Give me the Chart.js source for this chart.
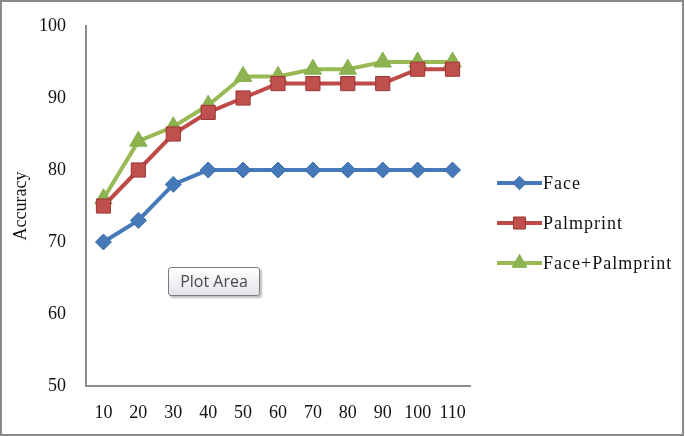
<!DOCTYPE html>
<html>
<head>
<meta charset="utf-8">
<script src="https://cdn.jsdelivr.net/npm/chart.js@4/dist/chart.umd.min.js"></script>
<style>
  html, body { margin: 0; padding: 0; background: #fff; }
  #wrap { position: relative; width: 685px; height: 436px; }
  #tip {
    position: absolute; left: 168px; top: 267px; width: 92px; height: 29px;
    box-sizing: border-box; border: 1px solid #7a7a7a; border-radius: 3px;
    background: linear-gradient(#ffffff, #e3e3ec);
    box-shadow: 2px 2px 2px rgba(0,0,0,0.25);
    font: 16px "Open Sans", "DejaVu Sans", sans-serif; color: #4a4a4a;
    text-align: center; line-height: 27px;
  }
</style>
</head>
<body>
<div id="wrap">
  <canvas id="c" width="685" height="436"></canvas>
  <div id="tip">Plot Area</div>
</div>
<script>
const categories = ['10', '20', '30', '40', '50', '60', '70', '80', '90', '100', '110'];
const faceValues = [70, 73, 78, 80, 80, 80, 80, 80, 80, 80, 80];
const palmprintValues = [75, 80, 85, 88, 90, 92, 92, 92, 92, 94, 94];
const fusionValues = [76, 84, 86, 89, 93, 93, 94, 94, 95, 95, 95];
const yTicks = [50, 60, 70, 80, 90, 100];
const seriesNames = ['Face', 'Palmprint', 'Face+Palmprint'];

const SERIF = '"Liberation Serif", "Times New Roman", serif';

const borderPlugin = {
  id: 'frame',
  beforeDraw(chart) {
    const ctx = chart.ctx;
    ctx.save();
    ctx.fillStyle = '#fff';
    ctx.fillRect(0, 0, chart.width, chart.height);
    ctx.strokeStyle = '#8a8a8a';
    ctx.lineWidth = 2;
    ctx.strokeRect(1, 1, chart.width - 3, chart.height - 2);
    ctx.restore();
  }
};

const legendPlugin = {
  id: 'lineLegend',
  afterDraw(chart) {
    const ctx = chart.ctx;
    const x0 = 497, lineLen = 45, y0 = 183, gap = 40;
    ctx.save();
    chart.data.datasets.forEach((ds, i) => {
      const y = y0 + i * gap;
      ctx.strokeStyle = ds.borderColor;
      ctx.lineWidth = ds.borderWidth;
      ctx.beginPath();
      ctx.moveTo(x0, y);
      ctx.lineTo(x0 + lineLen, y);
      ctx.stroke();
      ctx.fillStyle = ds.pointBackgroundColor;
      ctx.strokeStyle = ds.pointBorderColor;
      ctx.lineWidth = ds.pointBorderWidth;
      Chart.helpers.drawPoint(ctx, {pointStyle: ds.pointStyle, radius: ds.pointRadius * 0.85, rotation: 0, borderWidth: ds.pointBorderWidth}, x0 + lineLen / 2, y);
      ctx.fillStyle = '#111';
      ctx.font = '18px ' + SERIF;
      ctx.textBaseline = 'middle';
      ctx.textAlign = 'left';
      if ('letterSpacing' in ctx) ctx.letterSpacing = '1px';
      ctx.fillText(ds.label, x0 + lineLen + 1, y + 1);
    });
    ctx.restore();
  }
};

new Chart(document.getElementById('c'), {
  type: 'line',
  data: {
    labels: categories,
    datasets: [
      {
        label: seriesNames[0], data: faceValues,
        borderColor: '#4579b8', backgroundColor: '#4579b8',
        pointBackgroundColor: '#4579b8', pointBorderColor: '#3f70ad',
        borderWidth: 4, pointStyle: 'rectRot', pointRadius: 8, pointBorderWidth: 1
      },
      {
        label: seriesNames[1], data: palmprintValues,
        borderColor: '#be4b48', backgroundColor: '#be4b48',
        pointBackgroundColor: '#c0504d', pointBorderColor: '#9b3532',
        borderWidth: 4, pointStyle: 'rect', pointRadius: 10, pointBorderWidth: 1
      },
      {
        label: seriesNames[2], data: fusionValues,
        borderColor: '#98b954', backgroundColor: '#98b954',
        pointBackgroundColor: '#8db350', pointBorderColor: '#88ad4c',
        borderWidth: 4, pointStyle: 'triangle', pointRadius: 10, pointBorderWidth: 1
      }
    ]
  },
  options: {
    responsive: false,
    animation: false,
    layout: { padding: { left: 0, right: 215, top: 26, bottom: 0 } },
    plugins: { legend: { display: false }, tooltip: { enabled: false } },
    scales: {
      x: {
        offset: true,
        grid: { display: false },
        border: { display: true, color: '#8c8c8c', width: 2 },
        ticks: { color: '#111', font: { family: SERIF, size: 18 }, padding: 8, maxRotation: 0, autoSkip: false },
        afterFit(s) { s.height = 50; }
      },
      y: {
        min: 50, max: 100,
        afterBuildTicks(s) { s.ticks = yTicks.map(v => ({ value: v })); },
        grid: { display: false },
        border: { display: true, color: '#8c8c8c', width: 2 },
        ticks: { color: '#111', font: { family: SERIF, size: 18 }, padding: 12 },
        title: { display: true, text: 'Accuracy', color: '#111', font: { family: SERIF, size: 18 }, padding: { top: 10, bottom: 0 } },
        afterFit(s) { s.width = 86; }
      }
    }
  },
  plugins: [borderPlugin, legendPlugin]
});
</script>
</body>
</html>
